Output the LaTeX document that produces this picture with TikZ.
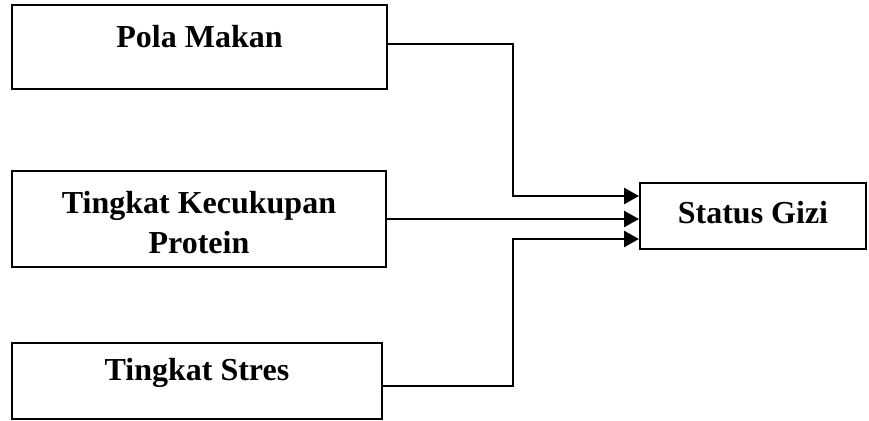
\documentclass[tikz,border=0pt]{standalone}
\usepackage{fontspec}
\setmainfont{Liberation Serif}
\usetikzlibrary{arrows.meta}
\begin{document}
\begin{tikzpicture}[x=0.5pt,y=-0.5pt,
  box/.style={draw,line width=1pt,inner sep=0pt},
  lbl/.style={font=\fontsize{16}{20}\selectfont\bfseries,align=center,inner sep=0pt},
  conn/.style={line width=1.3pt,-{Triangle[length=7.5pt,width=8pt]}}]
\useasboundingbox (0,0) rectangle (869,420);
\node[box,minimum width=187.5pt,minimum height=42pt] (pm) at (199.5,47) {};
\node[lbl] (pmt) at (199.5,37) {Pola Makan};
\node[box,minimum width=187pt,minimum height=48pt] (kp) at (199,219) {};
\node[lbl] (kpt) at (199,223) {Tingkat Kecukupan\\Protein};
\node[box,minimum width=185pt,minimum height=38pt] (ts) at (197,381) {};
\node[lbl] (tst) at (197,373) {Tingkat Stres};
\node[box,minimum width=113pt,minimum height=33pt] (sg) at (753,216) {};
\node[lbl] (sgt) at (753,213) {Status Gizi};
\coordinate (c1) at (513,44);
\coordinate (c2) at (513,386);
\draw[conn] ([yshift=1.5pt]pm.east) -- (c1) |- ([yshift=10pt]sg.west);
\draw[conn] (kp.east) -- ([yshift=-1.5pt]sg.west);
\draw[conn] ([yshift=-2.5pt]ts.east) -- (c2) |- ([yshift=-11.5pt]sg.west);
\end{tikzpicture}
\end{document}
